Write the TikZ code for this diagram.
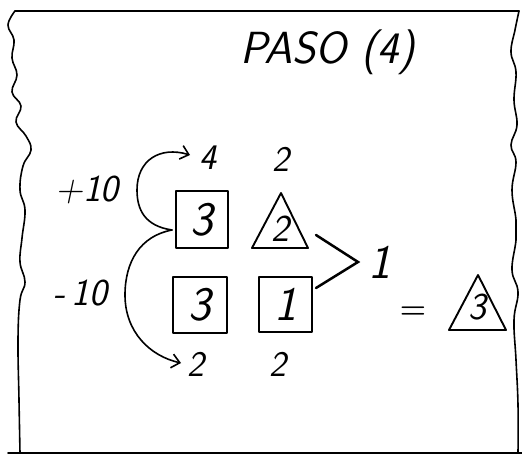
\documentclass[tikz,border=0pt]{standalone}
\usepackage{fontspec}
\usetikzlibrary{arrows.meta}
\begin{document}
\begin{tikzpicture}[x=1pt,y=-1pt,
  ink/.style={line width=1.9pt,line join=round,line cap=round},
  edge/.style={line width=1.6pt,line join=round,line cap=round},
  big/.style={font=\sffamily\itshape\fontsize{48}{48}\selectfont,inner sep=0pt},
  mid/.style={font=\sffamily\itshape\fontsize{38}{38}\selectfont,inner sep=0pt},
  small/.style={font=\sffamily\itshape\fontsize{36}{36}\selectfont,inner sep=0pt},
  title/.style={font=\sffamily\itshape\fontsize{45}{45}\selectfont,inner sep=0pt},
  barb/.style={-{Straight Barb[length=8pt,width=14pt,line width=1.6pt]}}]
\useasboundingbox (0,0) rectangle (522,457);
% frame
\draw[edge] (15,11) -- (519,11);
\draw[edge] (8,453) -- (522,453);
\draw[edge] plot[smooth,tension=0.7] coordinates {(15,11) (8,25) (14,40) (12,58) (17,75) (12,92) (21,106) (16,122) (26,136) (31,150) (23,166) (20,190) (25,210) (22,238) (20,262) (25,282) (20,300) (18,340) (19,400) (20,453)};
\draw[edge] plot[smooth,tension=0.7] coordinates {(519,11) (515,30) (511,52) (516,72) (514,100) (517,125) (511,145) (516,162) (512,190) (516,220) (516,240) (512,270) (518,292) (514,320) (516,360) (518,405) (518,453)};
% title
\node[title] (title) at (328,52) {PASO (4)};
% top numbers
\node[small] (t4) at (208,158) {4};
\node[small] (t2) at (281,159) {2};
% boxes
\node[draw,ink,minimum width=52pt,minimum height=57pt,big] (sq1) at (202,219.5) {3};
\node[draw,ink,minimum width=54pt,minimum height=56pt,big] (sq2) at (200,305) {3};
\node[draw,ink,minimum width=53pt,minimum height=55pt,big] (sq3) at (285.5,304.5) {1};
% triangles
\draw[ink] (281,193) -- (308,248) -- (252,248) -- cycle;
\node[mid] (tr1) at (280,229) {2};
\draw[ink] (478,275) -- (506,330) -- (449,330) -- cycle;
\node[mid] (tr2) at (477,307) {3};
% chevron and 1
\node[big] (one) at (380,262) {1};
\coordinate (ca) at (316,235);
\coordinate (cb) at (358,262);
\coordinate (cc) at (316,288);
\draw[line width=2.5pt,line join=miter,line cap=round] (ca) -- (cb) -- (cc);
% equals
\node[font=\bfseries\fontsize{30}{30}\selectfont,inner sep=0pt] (eq) at (413,313) {=};
% labels
\node[mid] (plus) at (87,190) {+10};
\node[mid] (minus) at (80,293) {-\,10};
% bottom numbers
\node[small] (b1) at (196,364) {2};
\node[small] (b2) at (278,364) {2};
% curved arrows
\coordinate (J) at (172,230);
\draw[edge,barb] (J) .. controls (145,226) and (137,210) .. (137,190) .. controls (137,160) and (160,146) .. (190,155);
\draw[edge,barb] (J) .. controls (140,236) and (125,262) .. (125,295) .. controls (125,332) and (150,356) .. (181,363);
\end{tikzpicture}
\end{document}
